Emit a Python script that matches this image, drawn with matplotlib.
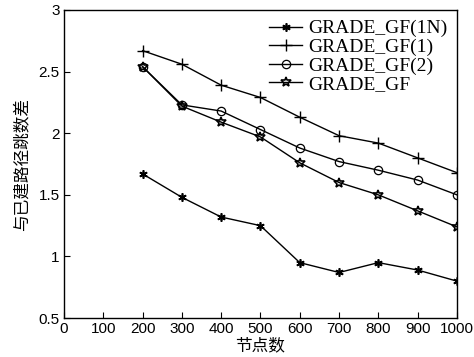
import numpy as np
import matplotlib.pyplot as plt

# node counts
nodes = [200, 300, 400, 500, 600, 700, 800, 900, 1000]

# hop difference vs. built path
gf_1n = [1.67, 1.48, 1.32, 1.25, 0.95, 0.87, 0.95, 0.89, 0.80]
gf_1 = [2.67, 2.56, 2.39, 2.29, 2.13, 1.98, 1.92, 1.80, 1.68]
gf_2 = [2.54, 2.23, 2.18, 2.03, 1.88, 1.77, 1.70, 1.62, 1.50]
gf = [2.54, 2.22, 2.09, 1.97, 1.76, 1.60, 1.50, 1.37, 1.24]

xticks = list(range(0, 1001, 100))
yticks = [0.5, 1, 1.5, 2, 2.5, 3]

cjk = ['Noto Sans CJK SC', 'DejaVu Sans']

fig = plt.figure(figsize=(4.74, 3.57), dpi=100)
ax = fig.add_axes([0.135, 0.109, 0.829, 0.863])

lw = 1.0
ax.plot(nodes, gf_1n, color='black', lw=lw, marker=(6, 2, 0), ms=6, mew=1.2,
        label='GRADE_GF(1N)')
ax.plot(nodes, gf_1, color='black', lw=lw, marker='+', ms=8, mew=1.0,
        label='GRADE_GF(1)')
ax.plot(nodes, gf_2, color='black', lw=lw, marker='o', ms=6, mfc='none', mew=0.9,
        label='GRADE_GF(2)')
ax.plot(nodes, gf, color='black', lw=lw, marker='*', ms=7, mfc='none', mew=1.2,
        label='GRADE_GF')

ax.set_xlim(0, 1000)
ax.set_ylim(0.5, 3)
ax.set_xticks(xticks)
ax.set_yticks(yticks)
ax.set_xticklabels([str(v) for v in xticks], family='Liberation Sans', fontsize=11)
ax.set_yticklabels([f'{v:g}' for v in yticks], family='Liberation Sans', fontsize=11)
ax.tick_params(direction='in', length=4, width=0.8, top=False, right=False, pad=3)
for s in ax.spines.values():
    s.set_linewidth(1.0)

ax.set_xlabel('节点数', family=cjk, fontsize=12, labelpad=1)
ax.set_ylabel('与已建路径跳数差', family=cjk, fontsize=12, labelpad=6)

leg = ax.legend(loc='upper right', frameon=False, handlelength=1.7,
                handletextpad=0.3, labelspacing=0.05, borderaxespad=0.1,
                prop={'family': 'Liberation Serif', 'size': 14})

fig.savefig('out.png', dpi=100)
